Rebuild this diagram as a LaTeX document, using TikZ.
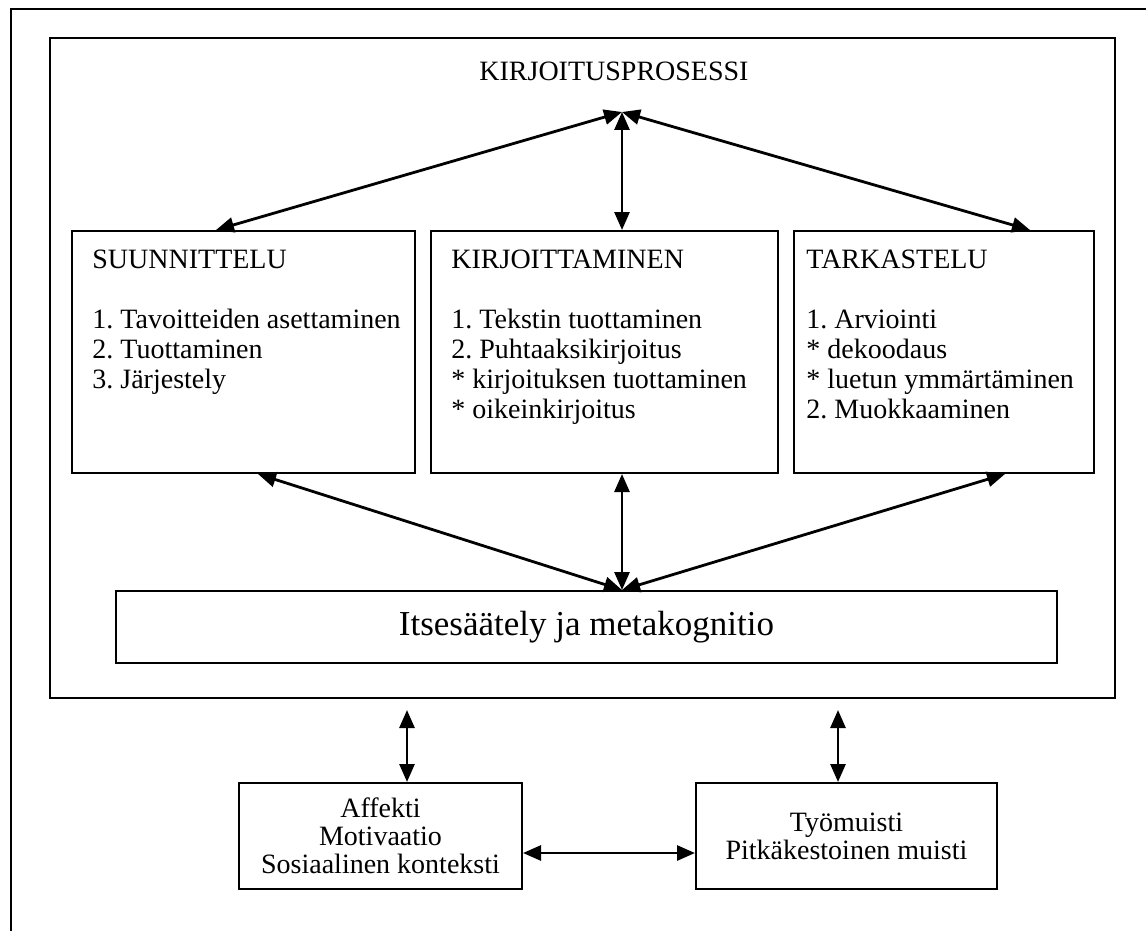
\documentclass[tikz,border=0pt]{standalone}
\usepackage{fontspec}
\setmainfont{Liberation Serif}
\usetikzlibrary{arrows.meta,calc}
\frenchspacing
\begin{document}
\begin{tikzpicture}[x=0.5pt,y=-0.5pt,
  box/.style={draw, line width=1pt, inner sep=0pt, anchor=north west},
  arr/.style={line width=1.4pt, {Triangle[length=9pt,width=7.5pt]}-{Triangle[length=9pt,width=7.5pt]}},
  txt/.style={font=\fontsize{14pt}{15pt}\selectfont, align=left, anchor=north west, inner sep=0pt},
  ctxt/.style={font=\fontsize{14pt}{14pt}\selectfont, align=center, inner sep=0pt}]
\useasboundingbox (0,0) rectangle (1146,931);
\draw[line width=1pt] (11,931) -- (11,9) -- (1146,9);
% frames and boxes
\node[box, minimum width=532.5pt, minimum height=330pt] (frame) at (49,37) {};
\node[txt, anchor=north] (title) at (614,62) {KIRJOITUSPROSESSI};
\node[box, minimum width=171.5pt, minimum height=121pt] (suun) at (71,230) {};
\node[box, minimum width=173.5pt, minimum height=121pt] (kirj) at (430,230) {};
\node[box, minimum width=150pt, minimum height=121pt] (tark) at (793,230) {};
\node[txt] (suunT) at ($(suun.north west)+(21,20)$) {SUUNNITTELU\\[15pt]1. Tavoitteiden asettaminen\\2. Tuottaminen\\3. Järjestely};
\node[txt] (kirjT) at ($(kirj.north west)+(21,20)$) {KIRJOITTAMINEN\\[15pt]1. Tekstin tuottaminen\\2. Puhtaaksikirjoitus\\* kirjoituksen tuottaminen\\* oikeinkirjoitus};
\node[txt] (tarkT) at ($(tark.north west)+(13,20)$) {TARKASTELU\\[15pt]1. Arviointi\\* dekoodaus\\* luetun ymmärtäminen\\2. Muokkaaminen};
\node[box, minimum width=470.5pt, minimum height=36pt] (itse) at (115,590) {};
\node[font=\fontsize{17.5pt}{20pt}\selectfont, inner sep=0pt] (itseT) at (itse.center) {Itsesäätely ja metakognitio};
\node[box, minimum width=141.5pt, minimum height=53pt] (aff) at (238,782) {};
\node[ctxt] (affT) at (aff.center) {Affekti\\Motivaatio\\Sosiaalinen konteksti};
\node[box, minimum width=150.5pt, minimum height=53pt] (tyo) at (695,782) {};
\node[ctxt] (tyoT) at (tyo.center) {Työmuisti\\Pitkäkestoinen muisti};
% arrows
\coordinate (apex) at (622,112);
\coordinate (conv) at ($(itse.north west)+(507,0)$);
\draw[arr] ($(suun.north west)+(145,0)$) -- (apex);
\draw[arr] ($(kirj.north west)+(192,0)$) -- (apex);
\draw[arr] ($(tark.north west)+(237,0)$) -- (apex);
\draw[arr] ($(suun.south west)+(187,0)$) -- (conv);
\draw[arr] ($(kirj.south west)+(192,0)$) -- (conv);
\draw[arr] ($(tark.south west)+(212,0)$) -- (conv);
\coordinate (c1) at (407,710);
\coordinate (c2) at (838,710);
\draw[arr] (c1) -- (c1 |- aff.north);
\draw[arr] (c2) -- (c2 |- tyo.north);
\draw[arr] ($(aff.east)+(0,17)$) -- ($(tyo.west)+(0,17)$);
\end{tikzpicture}
\end{document}
